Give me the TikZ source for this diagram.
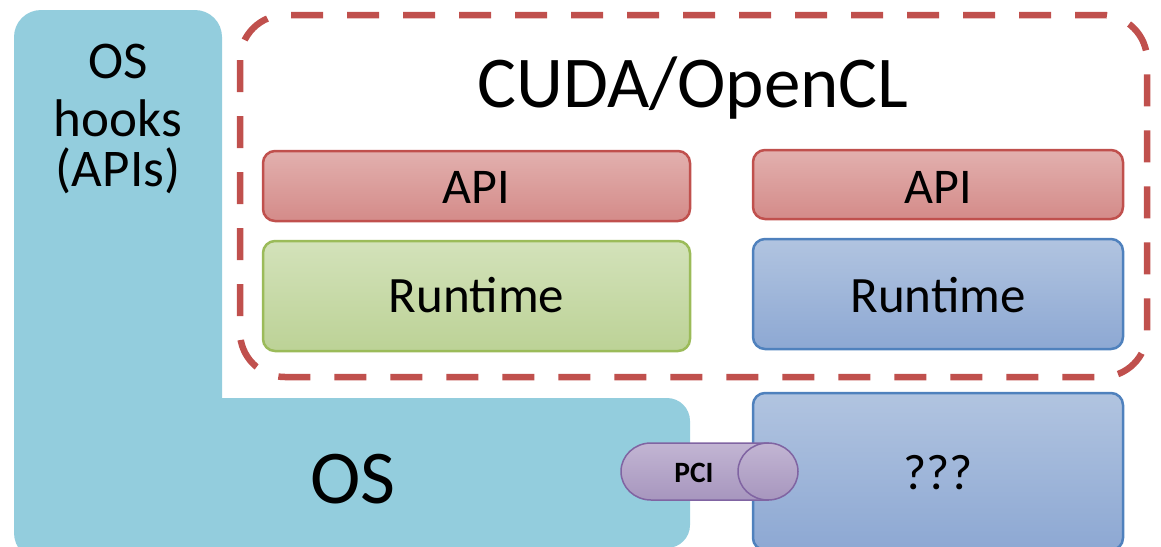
\documentclass[tikz,border=0pt]{standalone}
\usepackage{fontspec}
\setmainfont{Carlito}
\definecolor{osblue}{HTML}{93CDDD}
\definecolor{dred}{HTML}{C0504D}
\definecolor{redtop}{HTML}{E2B0AE}
\definecolor{redbot}{HTML}{D48B89}
\definecolor{grnline}{HTML}{9BBB59}
\definecolor{grntop}{HTML}{D3E2BA}
\definecolor{grnbot}{HTML}{BCD296}
\definecolor{bluline}{HTML}{4F81BD}
\definecolor{blutop}{HTML}{B1C4E0}
\definecolor{blubot}{HTML}{8DA8D3}
\definecolor{purline}{HTML}{8064A2}
\definecolor{purtop}{HTML}{C2B5D3}
\definecolor{purbot}{HTML}{A796BE}
\tikzset{
  apibox/.style={draw=dred, line width=2.5pt, rounded corners=12pt, top color=redtop, bottom color=redbot},
  grnbox/.style={draw=grnline, line width=2.5pt, rounded corners=12pt, top color=grntop, bottom color=grnbot},
  blubox/.style={draw=bluline, line width=2.5pt, rounded corners=12pt, top color=blutop, bottom color=blubot},
  pcibody/.style={draw=purline, line width=1.5pt, top color=purtop, bottom color=purbot},
  lbl/.style={inner sep=0pt, anchor=base, text=black},
  dashframe/.style={draw=dred, line width=6.5pt, rounded corners=45pt, dash pattern=on 32pt off 24pt}
}
\begin{document}
\begin{tikzpicture}[x=1pt,y=-1pt]
\useasboundingbox (0,0) rectangle (1161,546);
\clip (0,0) rectangle (1161,546);
% OS L-shape
\fill[osblue, rounded corners=27pt] (14,10) rectangle (222,560);
\fill[osblue, rounded corners=23pt] (14,398) rectangle (690,548);
\node[lbl] (hooks1) at (118,78) {\fontsize{53}{56}\selectfont OS};
\node[lbl] (hooks2) at (118,136) {\fontsize{53}{56}\selectfont hooks};
\node[lbl] (hooks3) at (118,186) {\fontsize{53}{56}\selectfont (APIs)};
\node[lbl] (os) at (353,503) {\fontsize{76}{80}\selectfont OS};
% dashed frame
\draw[dashframe] (240,15) rectangle (1147,377);
\node[lbl] (cuda) at (693,107) {\fontsize{73}{80}\selectfont CUDA/OpenCL};
% API boxes
\draw[apibox] (263,151) rectangle (690,221);
\node[lbl] (api1) at (476.5,203) {\fontsize{50}{56}\selectfont API};
\draw[apibox] (753,150) rectangle (1123,219);
\node[lbl] (api2) at (938,203) {\fontsize{50}{56}\selectfont API};
% Runtime boxes
\draw[grnbox] (263,241) rectangle (690,351);
\node[lbl] (rt1) at (476.5,312) {\fontsize{51}{56}\selectfont Runtime};
\draw[blubox] (753,239) rectangle (1123,349);
\node[lbl] (rt2) at (938,312) {\fontsize{51}{56}\selectfont Runtime};
% ??? box
\draw[blubox] (753,393) rectangle (1123,550);
\node[lbl] (q) at (938,489) {\fontsize{50}{56}\selectfont ???};
% PCI cylinder
\path[pcibody] (768,443) -- (651,443) arc[start angle=270, end angle=90, x radius=30, y radius=28.5] -- (768,500) -- cycle;
\path[pcibody] (768,471.5) ellipse[x radius=30, y radius=28.5];
\node[lbl] (pci) at (694,482) {\fontsize{29.5}{32}\selectfont\bfseries PCI};
\end{tikzpicture}
\end{document}
